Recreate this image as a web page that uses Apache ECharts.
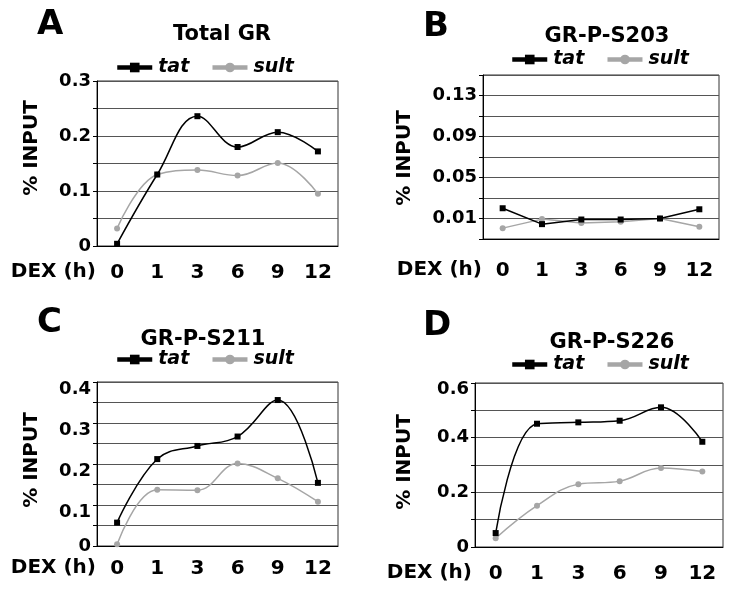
<!DOCTYPE html>
<html>
<head>
<meta charset="utf-8">
<script src="https://cdn.jsdelivr.net/npm/echarts@6/dist/echarts.min.js"></script>
<style>
html,body{margin:0;padding:0;background:#fff;}
#chart{width:729px;height:597px;}
</style>
</head>
<body>
<div id="chart"></div>
<script>
const categories = ['0', '1', '3', '6', '9', '12'];
const seriesNames = ['tat', 'sult'];
const panelTitles = ['Total GR', 'GR-P-S203', 'GR-P-S211', 'GR-P-S226'];
const panelLetters = ['A', 'B', 'C', 'D'];

const totalTat  = [0.004, 0.130, 0.236, 0.180, 0.207, 0.172];
const totalSult = [0.032, 0.130, 0.138, 0.128, 0.151, 0.095];
const s203Tat   = [0.020, 0.0045, 0.009, 0.009, 0.010, 0.019];
const s203Sult  = [0.0006, 0.0094, 0.0055, 0.0068, 0.010, 0.0019];
const s211Tat   = [0.057, 0.212, 0.244, 0.267, 0.356, 0.154];
const s211Sult  = [0.004, 0.137, 0.136, 0.201, 0.165, 0.108];
const s226Tat   = [0.051, 0.451, 0.456, 0.462, 0.511, 0.385];
const s226Sult  = [0.032, 0.151, 0.230, 0.241, 0.289, 0.276];

const FONT = '"DejaVu Sans", sans-serif';
const TAT_COLOR = '#000000';
const SULT_COLOR = '#a6a6a6';

const grids = [
  {left: 97,  top: 81,  width: 241, height: 165},
  {left: 483, top: 75,  width: 236, height: 164},
  {left: 97,  top: 382, width: 241, height: 164},
  {left: 475, top: 383, width: 248, height: 164}
];
const axisSpecs = [
  {min: 0, max: 0.3, interval: 0.05, show: k => k % 2 === 0, dec: 1},
  {min: -0.01, max: 0.15, interval: 0.02, show: k => k % 2 === 1, dec: 2},
  {min: 0, max: 0.4, interval: 0.05, show: k => k % 2 === 0, dec: 1, shift: true},
  {min: 0, max: 0.6, interval: 0.1, show: k => k % 2 === 0, dec: 1, shiftTop: true}
];
const xMargins = [17, 22, 13, 17];

const chart = echarts.init(document.getElementById('chart'), null, {renderer: 'canvas'});

const labelRich = {
  n: {fontSize: 18, fontWeight: 'bold', fontFamily: FONT, color: '#000'},
  d: {fontSize: 18, fontWeight: 'bold', fontFamily: FONT, color: '#000', padding: [15, 0, 0, 0]},
  t: {fontSize: 18, fontWeight: 'bold', fontFamily: FONT, color: '#000', padding: [12, 0, 0, 0]}
};

const yAxes = axisSpecs.map((s, i) => ({
  type: 'value', gridIndex: i, min: s.min, max: s.max, interval: s.interval,
  axisLine: {show: true, onZero: false, lineStyle: {color: '#000', width: 1}},
  axisTick: {show: true, length: 4, lineStyle: {color: '#000'}},
  splitLine: {show: true, lineStyle: {color: '#555', width: 1}},
  axisLabel: {
    margin: 6,
    rich: labelRich,
    formatter: function (v) {
      const k = Math.round((v - s.min) / s.interval);
      if (!s.show(k)) return '';
      const txt = Math.abs(v) < 1e-9 ? '0' : v.toFixed(s.dec);
      if (s.shift && txt !== '0') return '{d|' + txt + '}';
      if (s.shiftTop && Math.abs(v - s.max) < 1e-9) return '{t|' + txt + '}';
      return '{n|' + txt + '}';
    }
  }
}));

const xAxes = grids.map((g, i) => ({
  type: 'category', gridIndex: i, data: categories, boundaryGap: true,
  axisLine: {show: true, onZero: false, lineStyle: {color: '#000', width: 1}},
  axisTick: {show: false},
  splitLine: {show: false},
  axisLabel: {margin: xMargins[i], fontSize: 20, fontWeight: 'bold', fontFamily: FONT, color: '#000', interval: 0}
}));

const panelData = [[totalTat, totalSult], [s203Tat, s203Sult], [s211Tat, s211Sult], [s226Tat, s226Sult]];
const smoothFlags = [true, false, true, true];
const series = [];
panelData.forEach((pair, i) => {
  pair.forEach((data, j) => {
    const c = j === 0 ? TAT_COLOR : SULT_COLOR;
    series.push({
      name: seriesNames[j], type: 'line', xAxisIndex: i, yAxisIndex: i,
      data: data, smooth: smoothFlags[i] ? 0.4 : false,
      symbol: j === 0 ? 'rect' : 'circle', symbolSize: 6, showSymbol: true,
      lineStyle: {color: c, width: 1.5}, itemStyle: {color: c},
      z: j === 0 ? 3 : 2
    });
  });
});

const legendPos = [
  {left: 115, top: 58}, {left: 510, top: 50}, {left: 115, top: 350}, {left: 510, top: 355}
];
const legends = legendPos.map(p => ({
  left: p.left, top: p.top, padding: 0, orient: 'horizontal',
  data: seriesNames, itemWidth: 35, itemHeight: 12, itemGap: 21,
  selectedMode: false,
  lineStyle: {width: 4.5},
  textStyle: {fontSize: 19, fontWeight: 'bold', fontStyle: 'italic', fontFamily: FONT, color: '#000', padding: [0, 0, 0, 1]}
}));

const graphics = [];
const letterPos = [[37, 25], [423, 27], [37, 323], [423, 326]];
const titlePos = [[222, 35], [607, 37], [203, 340], [612, 343]];
const dexPos = [[96, 272], [482, 270], [96, 568], [472, 573]];
const ylabPos = [[32, 148], [405, 158], [32, 460], [405, 462]];
for (let i = 0; i < 4; i++) {
  graphics.push({type: 'text', x: letterPos[i][0], y: letterPos[i][1],
    style: {text: panelLetters[i], font: 'bold 34px ' + FONT, fill: '#000', align: 'left', verticalAlign: 'middle'}});
  graphics.push({type: 'text', x: titlePos[i][0], y: titlePos[i][1],
    style: {text: panelTitles[i], font: 'bold 21px ' + FONT, fill: '#000', align: 'center', verticalAlign: 'middle'}});
  graphics.push({type: 'text', x: dexPos[i][0], y: dexPos[i][1],
    style: {text: 'DEX (h)', font: 'bold 20px ' + FONT, fill: '#000', align: 'right', verticalAlign: 'middle'}});
  graphics.push({type: 'text', x: ylabPos[i][0], y: ylabPos[i][1], rotation: Math.PI / 2,
    style: {text: '% INPUT', font: 'bold 20px ' + FONT, fill: '#000', align: 'center', verticalAlign: 'middle'}});
}

chart.setOption({
  animation: false,
  backgroundColor: '#fff',
  grid: grids.map(g => Object.assign({show: true, borderColor: '#333', borderWidth: 1, backgroundColor: 'transparent'}, g)),
  xAxis: xAxes,
  yAxis: yAxes,
  legend: legends,
  series: series,
  graphic: graphics
});
</script>
</body>
</html>
